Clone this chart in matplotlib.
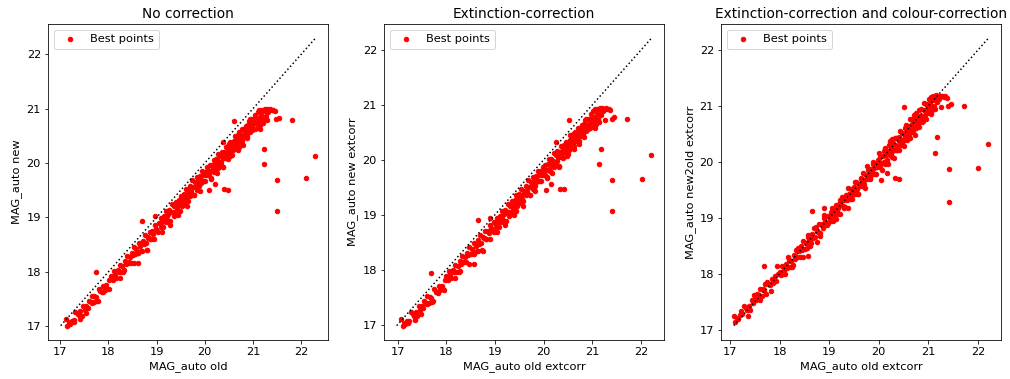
import matplotlib
matplotlib.use("Agg")
import matplotlib.pyplot as plt
import numpy as np

plt.rcParams["font.size"] = 11.4

# ---- panel 1: no correction ----
x_old = [
    17.12, 17.15, 17.18, 17.21, 17.24, 17.29, 17.31, 17.36, 17.39, 17.42, 17.45, 17.48, 17.51, 17.54, 17.57,
    17.60, 17.63, 17.66, 17.69, 17.71, 17.74, 17.78, 17.80, 17.83, 17.86, 17.89, 17.92, 17.95, 17.98, 18.02,
    18.05, 18.09, 18.11, 18.14, 18.16, 18.19, 18.21, 18.24, 18.26, 18.29, 18.31, 18.34, 18.36, 18.39, 18.41,
    18.44, 18.46, 18.48, 18.51, 18.53, 18.56, 18.58, 18.61, 18.63, 18.66, 18.68, 18.71, 18.73, 18.76, 18.78,
    18.81, 18.83, 18.86, 18.88, 18.91, 18.93, 18.96, 18.98, 19.01, 19.04,
    19.06, 19.08, 19.10, 19.12, 19.14, 19.16, 19.18, 19.20, 19.22, 19.24, 19.26, 19.28, 19.30, 19.32, 19.34,
    19.36, 19.38, 19.40, 19.42, 19.44, 19.46, 19.48, 19.50, 19.52, 19.54, 19.56, 19.58, 19.60, 19.62, 19.64,
    19.66, 19.68, 19.70, 19.72, 19.74, 19.76, 19.78, 19.80, 19.82, 19.84, 19.86, 19.88, 19.90, 19.92, 19.94,
    19.96, 19.98, 20.00, 20.02, 20.04, 19.21, 19.51, 19.71, 19.91, 19.61,
    20.07, 20.09, 20.10, 20.12, 20.13, 20.15, 20.17, 20.18, 20.20, 20.22, 20.23, 20.25, 20.27, 20.28, 20.30,
    20.32, 20.33, 20.35, 20.37, 20.38, 20.40, 20.42, 20.43, 20.45, 20.47, 20.48, 20.50, 20.52, 20.53, 20.55,
    20.57, 20.58, 20.60, 20.62, 20.63, 20.65, 20.67, 20.68, 20.70, 20.72, 20.73, 20.75, 20.77, 20.78, 20.80,
    20.82, 20.83, 20.85, 20.87, 20.88, 20.90, 20.92, 20.93, 20.95, 20.97, 20.98, 21.00, 21.02, 21.03, 21.05,
    20.27, 20.47, 20.67, 20.87, 20.57,
    21.08, 21.10, 21.12, 21.13, 21.15, 21.17, 21.18, 21.20, 21.22, 21.24, 21.26, 21.28, 21.30, 21.33, 21.36,
    21.39, 21.42, 21.45, 21.11, 21.16, 21.21, 21.14,
    17.28, 17.41, 17.53, 17.66, 17.77, 17.89, 18.01, 18.12, 18.23, 18.33, 18.43, 18.52, 18.62, 18.70, 18.79,
    18.87, 18.95, 19.03, 19.11, 19.19, 19.27, 19.35, 19.43, 19.49, 19.57, 19.63, 19.69, 19.77, 19.83, 19.89,
    19.95, 20.01, 20.07, 20.13, 20.18, 20.23, 20.28, 20.33, 20.38, 20.43, 20.48, 20.53, 20.58, 20.63, 20.68,
    20.73, 20.78, 20.83, 20.88, 20.93, 20.98, 21.03, 20.41, 20.51, 20.61, 20.71, 20.81, 20.91, 21.01, 20.31,
    17.74, 18.70, 18.96, 18.62, 18.79, 20.39, 20.48, 20.22, 20.09, 20.60, 20.37, 21.23, 21.22, 21.50, 21.50,
    22.10, 22.29, 21.81, 21.48, 21.53, 21.29,
]
y_new = [
    17.14, 17.01, 17.07, 17.04, 17.09, 17.11, 17.26, 17.23, 17.20, 17.27, 17.19, 17.37, 17.30, 17.37, 17.34,
    17.47, 17.44, 17.56, 17.44, 17.55, 17.53, 17.46, 17.68, 17.64, 17.63, 17.74, 17.66, 17.75, 17.69, 17.85,
    17.92, 17.85, 18.01, 17.94, 17.88, 18.03, 17.99, 18.12, 18.00, 18.11, 17.99, 18.20, 18.15, 18.29, 18.17,
    18.27, 18.17, 18.35, 18.31, 18.45, 18.33, 18.42, 18.34, 18.52, 18.47, 18.38, 18.57, 18.51, 18.67, 18.53,
    18.64, 18.62, 18.74, 18.60, 18.75, 18.70, 18.86, 18.79, 18.75, 18.90,
    18.90, 18.83, 18.99, 18.92, 18.83, 19.02, 18.96, 19.11, 18.95, 19.06, 19.13, 18.93, 19.10, 19.25, 19.10,
    19.20, 19.09, 19.29, 19.21, 19.05, 19.31, 19.23, 19.40, 19.21, 19.35, 19.43, 19.32, 19.52, 19.40, 19.30,
    19.49, 19.45, 19.58, 19.44, 19.68, 19.56, 19.41, 19.65, 19.57, 19.74, 19.65, 19.58, 19.76, 19.69, 19.85,
    19.77, 19.66, 19.84, 19.78, 19.92, 19.02, 19.30, 19.48, 19.64, 19.33,
    19.87, 19.77, 19.96, 19.86, 19.73, 19.97, 19.88, 20.06, 19.85, 20.00, 20.07, 19.81, 20.03, 20.17, 20.00,
    20.13, 19.96, 20.21, 20.10, 19.92, 20.19, 20.10, 20.30, 20.17, 20.08, 20.31, 20.25, 20.18, 20.38, 20.25,
    20.15, 20.38, 20.33, 20.50, 20.27, 20.42, 20.36, 20.52, 20.30, 20.46, 20.54, 20.42, 20.63, 20.49, 20.33,
    20.60, 20.48, 20.68, 20.60, 20.50, 20.70, 20.61, 20.80, 20.69, 20.61, 20.80, 20.71, 20.79, 20.63, 20.89,
    20.01, 20.25, 20.43, 20.55, 20.28,
    20.75, 20.93, 20.83, 20.97, 20.70, 20.89, 20.98, 20.80, 20.95, 20.99, 20.87, 20.99, 20.93, 20.98, 20.99,
    20.97, 20.98, 20.96, 20.67, 20.77, 20.73, 20.63,
    17.07, 17.14, 17.24, 17.43, 17.46, 17.63, 17.68, 17.91, 17.89, 18.03, 18.18, 18.16, 18.34, 18.38, 18.40,
    18.61, 18.61, 18.73, 18.74, 18.91, 18.86, 19.03, 19.17, 19.11, 19.26, 19.20, 19.40, 19.41, 19.51, 19.49,
    19.67, 19.66, 19.77, 19.71, 19.84, 19.96, 19.91, 20.02, 19.93, 20.10, 20.19, 20.12, 20.23, 20.32, 20.24,
    20.39, 20.40, 20.53, 20.46, 20.57, 20.66, 20.74, 20.20, 20.34, 20.41, 20.56, 20.62, 20.78, 20.80, 20.15,
    17.99, 18.94, 19.02, 18.17, 18.40, 19.52, 19.51, 19.61, 19.50, 20.78, 20.38, 20.25, 19.99, 19.69, 19.12,
    19.72, 20.13, 20.79, 20.80, 20.83, 20.79,
]

# ---- panels 2 and 3: extinction corrected ----
x_ext = [
    17.07, 17.10, 17.13, 17.16, 17.20, 17.24, 17.27, 17.31, 17.34, 17.37, 17.40, 17.43, 17.46, 17.49, 17.52,
    17.55, 17.58, 17.61, 17.64, 17.66, 17.69, 17.72, 17.75, 17.78, 17.81, 17.84, 17.87, 17.90, 17.93, 17.97,
    18.00, 18.03, 18.05, 18.08, 18.10, 18.13, 18.15, 18.18, 18.20, 18.23, 18.25, 18.28, 18.30, 18.33, 18.35,
    18.38, 18.40, 18.42, 18.45, 18.47, 18.50, 18.52, 18.55, 18.57, 18.60, 18.62, 18.65, 18.67, 18.70, 18.72,
    18.75, 18.77, 18.80, 18.82, 18.85, 18.87, 18.90, 18.92, 18.95, 18.98,
    19.00, 19.02, 19.04, 19.06, 19.08, 19.10, 19.12, 19.14, 19.16, 19.18, 19.20, 19.22, 19.24, 19.26, 19.28,
    19.30, 19.32, 19.34, 19.36, 19.38, 19.40, 19.42, 19.44, 19.46, 19.48, 19.50, 19.52, 19.54, 19.56, 19.58,
    19.60, 19.62, 19.64, 19.66, 19.68, 19.70, 19.72, 19.74, 19.76, 19.78, 19.80, 19.82, 19.84, 19.86, 19.88,
    19.90, 19.92, 19.94, 19.96, 19.98, 19.15, 19.45, 19.65, 19.85, 19.55,
    20.00, 20.02, 20.03, 20.05, 20.06, 20.08, 20.10, 20.11, 20.13, 20.15, 20.16, 20.18, 20.20, 20.21, 20.23,
    20.25, 20.26, 20.28, 20.30, 20.31, 20.33, 20.35, 20.36, 20.38, 20.40, 20.41, 20.43, 20.45, 20.46, 20.48,
    20.50, 20.51, 20.53, 20.55, 20.56, 20.58, 20.60, 20.61, 20.63, 20.65, 20.66, 20.68, 20.70, 20.71, 20.73,
    20.75, 20.76, 20.78, 20.80, 20.81, 20.83, 20.85, 20.86, 20.88, 20.90, 20.91, 20.93, 20.95, 20.96, 20.98,
    20.20, 20.40, 20.60, 20.80, 20.50,
    21.00, 21.02, 21.04, 21.05, 21.07, 21.09, 21.10, 21.12, 21.14, 21.16, 21.18, 21.20, 21.22, 21.25, 21.28,
    21.31, 21.34, 21.37, 21.03, 21.08, 21.13, 21.06,
    17.22, 17.35, 17.47, 17.60, 17.71, 17.83, 17.95, 18.06, 18.17, 18.27, 18.37, 18.46, 18.56, 18.64, 18.73,
    18.81, 18.89, 18.97, 19.05, 19.13, 19.21, 19.29, 19.37, 19.43, 19.51, 19.57, 19.63, 19.71, 19.77, 19.83,
    19.89, 19.95, 20.01, 20.07, 20.12, 20.17, 20.22, 20.27, 20.32, 20.37, 20.42, 20.47, 20.52, 20.57, 20.62,
    20.67, 20.72, 20.77, 20.82, 20.87, 20.92, 20.97, 20.35, 20.45, 20.55, 20.65, 20.75, 20.85, 20.95, 20.25,
    17.68, 18.65, 18.90, 18.57, 18.75, 20.33, 20.41, 20.16, 20.04, 20.51, 20.26, 21.17, 21.14, 21.41, 21.41,
    22.01, 22.21, 21.72, 21.40, 21.45, 21.26,
]
y_ext = [
    17.10, 16.98, 17.03, 17.01, 17.06, 17.07, 17.22, 17.19, 17.16, 17.23, 17.15, 17.33, 17.26, 17.33, 17.30,
    17.43, 17.40, 17.52, 17.40, 17.51, 17.49, 17.42, 17.64, 17.60, 17.59, 17.70, 17.62, 17.71, 17.65, 17.81,
    17.88, 17.81, 17.97, 17.90, 17.84, 17.99, 17.95, 18.08, 17.96, 18.07, 17.95, 18.16, 18.11, 18.25, 18.13,
    18.23, 18.13, 18.31, 18.27, 18.41, 18.29, 18.38, 18.30, 18.48, 18.43, 18.34, 18.53, 18.47, 18.63, 18.49,
    18.60, 18.58, 18.70, 18.56, 18.71, 18.66, 18.82, 18.75, 18.71, 18.86,
    18.85, 18.78, 18.94, 18.87, 18.78, 18.97, 18.91, 19.06, 18.90, 19.01, 19.08, 18.88, 19.05, 19.20, 19.05,
    19.15, 19.04, 19.24, 19.16, 19.00, 19.26, 19.18, 19.35, 19.16, 19.30, 19.38, 19.27, 19.47, 19.35, 19.25,
    19.44, 19.40, 19.53, 19.39, 19.63, 19.51, 19.36, 19.60, 19.52, 19.69, 19.60, 19.53, 19.71, 19.64, 19.80,
    19.72, 19.61, 19.79, 19.73, 19.87, 18.97, 19.25, 19.43, 19.59, 19.28,
    19.82, 19.72, 19.91, 19.81, 19.68, 19.92, 19.83, 20.01, 19.80, 19.95, 20.02, 19.76, 19.98, 20.12, 19.95,
    20.08, 19.91, 20.16, 20.05, 19.87, 20.14, 20.05, 20.25, 20.12, 20.03, 20.26, 20.20, 20.13, 20.33, 20.20,
    20.10, 20.33, 20.28, 20.45, 20.22, 20.37, 20.31, 20.47, 20.25, 20.41, 20.49, 20.37, 20.58, 20.44, 20.28,
    20.55, 20.43, 20.63, 20.55, 20.45, 20.65, 20.56, 20.75, 20.64, 20.56, 20.75, 20.66, 20.74, 20.58, 20.84,
    19.96, 20.20, 20.38, 20.50, 20.23,
    20.70, 20.88, 20.78, 20.92, 20.65, 20.84, 20.93, 20.75, 20.90, 20.94, 20.82, 20.94, 20.88, 20.93, 20.94,
    20.92, 20.93, 20.91, 20.62, 20.72, 20.68, 20.58,
    17.02, 17.09, 17.19, 17.38, 17.41, 17.58, 17.63, 17.86, 17.84, 17.98, 18.13, 18.11, 18.29, 18.33, 18.35,
    18.56, 18.56, 18.68, 18.69, 18.86, 18.81, 18.98, 19.12, 19.06, 19.21, 19.15, 19.35, 19.36, 19.46, 19.44,
    19.62, 19.61, 19.72, 19.66, 19.79, 19.91, 19.86, 19.97, 19.88, 20.05, 20.14, 20.07, 20.18, 20.27, 20.19,
    20.34, 20.35, 20.48, 20.41, 20.52, 20.61, 20.69, 20.15, 20.29, 20.36, 20.51, 20.57, 20.73, 20.75, 20.10,
    17.94, 18.91, 18.94, 18.11, 18.34, 19.46, 19.46, 19.55, 19.45, 20.72, 20.32, 20.20, 19.92, 19.63, 19.06,
    19.65, 20.08, 20.74, 20.74, 20.77, 20.73,
]
y_col = [
    17.25, 17.14, 17.21, 17.18, 17.26, 17.27, 17.42, 17.38, 17.35, 17.43, 17.35, 17.53, 17.48, 17.54, 17.52,
    17.63, 17.61, 17.73, 17.60, 17.72, 17.70, 17.64, 17.85, 17.82, 17.79, 17.91, 17.84, 17.95, 17.87, 18.00,
    18.03, 17.97, 18.13, 18.06, 18.00, 18.17, 18.11, 18.24, 18.12, 18.23, 18.12, 18.33, 18.27, 18.43, 18.29,
    18.40, 18.29, 18.49, 18.43, 18.59, 18.45, 18.55, 18.46, 18.65, 18.60, 18.50, 18.71, 18.64, 18.81, 18.65,
    18.77, 18.75, 18.88, 18.72, 18.88, 18.82, 18.99, 18.92, 18.87, 19.03,
    19.02, 18.94, 19.10, 19.03, 18.94, 19.14, 19.07, 19.23, 19.06, 19.18, 19.25, 19.06, 19.22, 19.37, 19.21,
    19.31, 19.20, 19.41, 19.32, 19.18, 19.43, 19.34, 19.52, 19.33, 19.47, 19.55, 19.43, 19.64, 19.51, 19.43,
    19.60, 19.56, 19.70, 19.56, 19.80, 19.68, 19.54, 19.77, 19.69, 19.86, 19.77, 19.70, 19.88, 19.81, 19.97,
    19.89, 19.78, 19.96, 19.90, 20.03, 19.13, 19.41, 19.60, 19.76, 19.45,
    19.99, 19.90, 20.08, 19.98, 19.86, 20.10, 20.00, 20.19, 19.97, 20.12, 20.20, 19.96, 20.15, 20.30, 20.12,
    20.25, 20.09, 20.34, 20.22, 20.07, 20.31, 20.22, 20.43, 20.29, 20.21, 20.44, 20.37, 20.30, 20.51, 20.38,
    20.29, 20.50, 20.45, 20.63, 20.40, 20.54, 20.48, 20.65, 20.43, 20.58, 20.67, 20.54, 20.76, 20.61, 20.48,
    20.72, 20.61, 20.81, 20.72, 20.63, 20.82, 20.74, 20.94, 20.82, 20.74, 20.93, 20.84, 20.92, 20.77, 21.03,
    20.14, 20.38, 20.56, 20.68, 20.41,
    20.98, 21.12, 21.04, 21.16, 20.92, 21.10, 21.18, 21.00, 21.15, 21.19, 21.07, 21.18, 21.13, 21.17, 21.18,
    21.16, 21.17, 21.15, 20.90, 20.98, 20.94, 20.86,
    17.34, 17.25, 17.62, 17.52, 17.81, 17.69, 18.13, 18.00, 18.30, 18.15, 18.46, 18.30, 18.70, 18.55, 18.84,
    18.68, 19.05, 18.90, 19.17, 18.98, 19.31, 19.18, 19.54, 19.35, 19.64, 19.43, 19.72, 19.61, 19.92, 19.71,
    20.00, 19.79, 20.15, 19.98, 20.24, 20.04, 20.38, 20.20, 20.42, 20.22, 20.55, 20.36, 20.61, 20.43, 20.77,
    20.59, 20.84, 20.64, 20.92, 20.71, 21.06, 20.87, 20.43, 20.33, 20.66, 20.56, 20.88, 20.79, 21.04, 20.14,
    18.14, 19.12, 19.17, 18.31, 18.56, 19.71, 19.70, 19.80, 19.68, 20.98, 20.41, 20.45, 20.16, 19.87, 19.28,
    19.89, 20.32, 21.00, 21.00, 21.03, 20.98,
]

panels = [
    (x_old, y_new, "No correction", "MAG_auto old", "MAG_auto new"),
    (x_ext, y_ext, "Extinction-correction", "MAG_auto old extcorr", "MAG_auto new extcorr"),
    (x_ext, y_col, "Extinction-correction and colour-correction", "MAG_auto old extcorr",
     "MAG_auto new2old extcorr"),
]
lefts = [48, 384, 721]

fig = plt.figure(figsize=(1010 / 72, 379 / 72), dpi=72)
for left, (xs, ys, title, xlab, ylab) in zip(lefts, panels):
    ax = fig.add_axes([left / 1010, 39 / 379, 280 / 1010, 316 / 379])
    xs = np.array(xs)
    ys = np.array(ys)
    ax.scatter(xs, ys, s=20, c="red", label="Best points")
    lo = min(xs.min(), ys.min())
    hi = max(xs.max(), ys.max())
    ax.plot([lo, hi], [lo, hi], "k:")
    ax.set_title(title)
    ax.set_xlabel(xlab)
    ax.set_ylabel(ylab)
    ax.legend(loc="upper left")

fig.savefig("out.png", dpi=72)
